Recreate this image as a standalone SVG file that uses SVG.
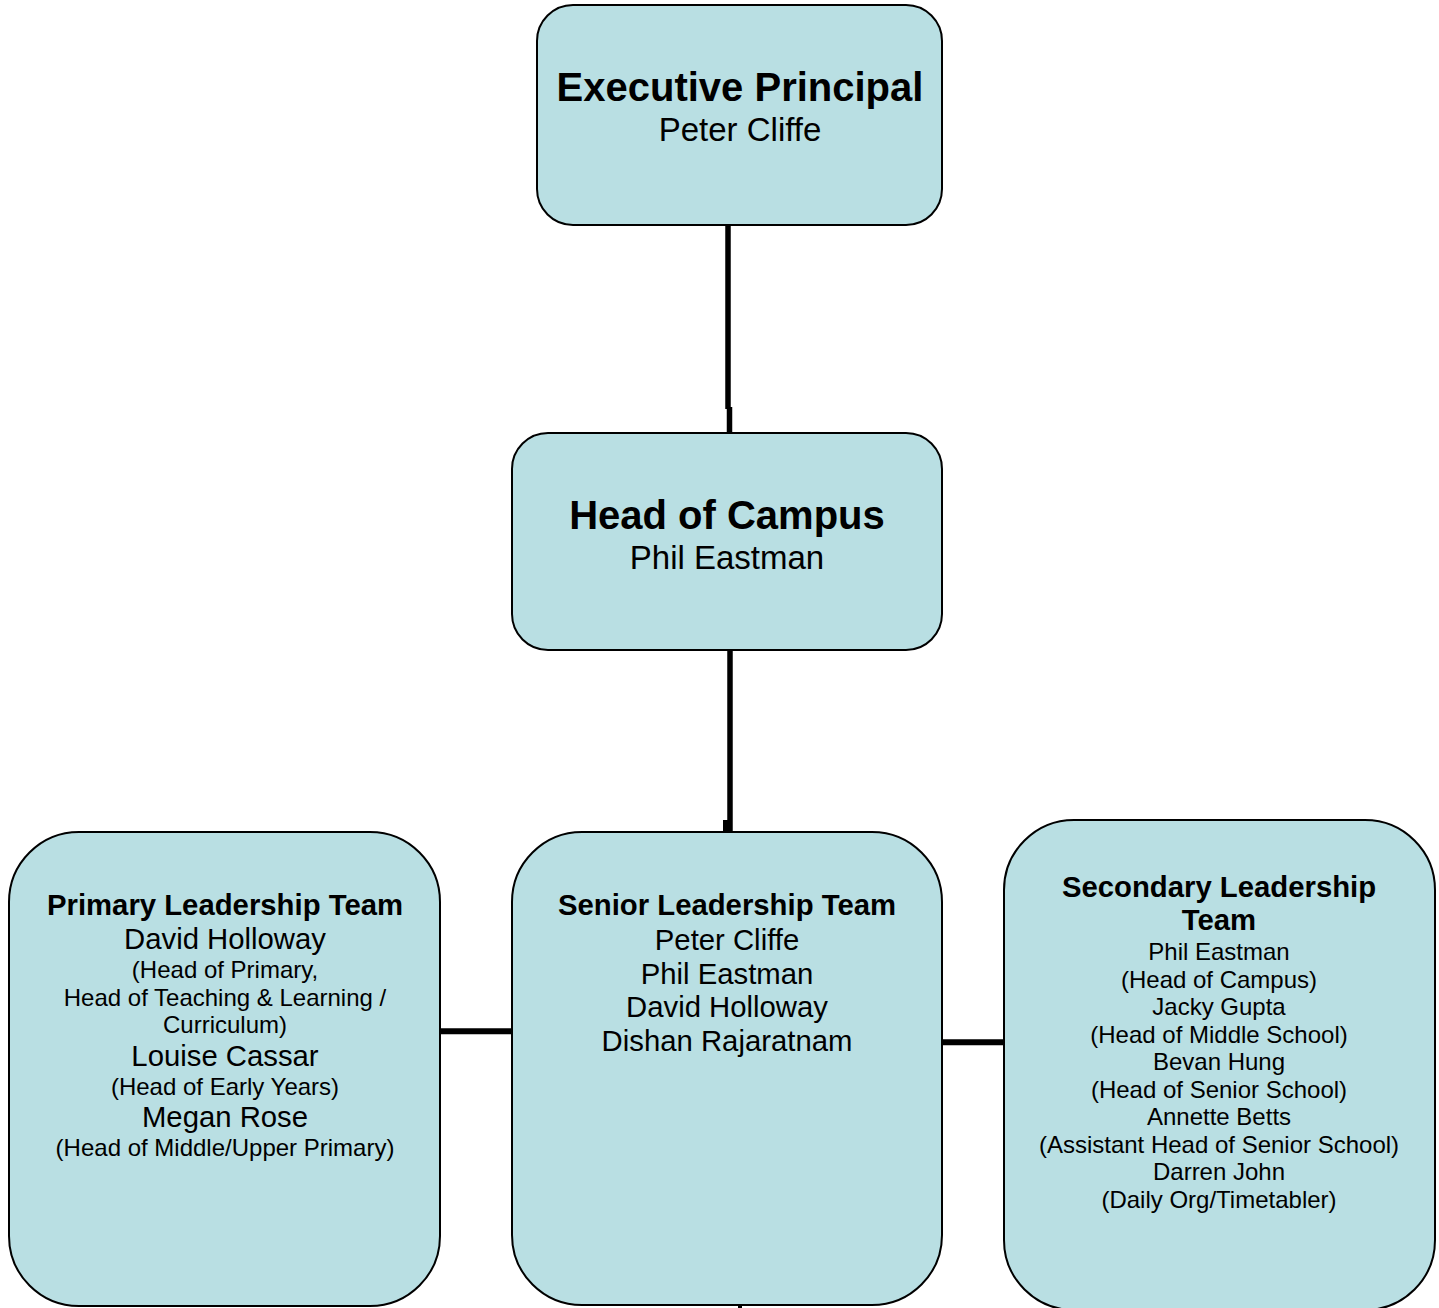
<svg xmlns="http://www.w3.org/2000/svg" width="1439" height="1308" viewBox="0 0 1439 1308">
<style>
.box{fill:#B9DFE3;stroke:#000;stroke-width:2}
.c{fill:none;stroke:#000}
text{font-family:"Liberation Sans",Arial,sans-serif;fill:#000;text-anchor:middle}
.h1{font-size:40px;font-weight:bold}
.n1{font-size:33px}
.h2{font-size:29.3px;font-weight:bold}
.n2{font-size:29.3px}
.s{font-size:24px}
</style>
<rect width="1439" height="1308" fill="#fff"/>
<g id="connectors">
<path class="c" stroke-width="5.5" d="M728 225 V409"/>
<path class="c" stroke-width="5.5" d="M729.5 407 V433"/>
<path class="c" stroke-width="5.5" d="M730 650 V832"/>
<rect x="723" y="820" width="7" height="12" fill="#000"/>
<path class="c" stroke-width="6" d="M440 1031.3 H512"/>
<path class="c" stroke-width="6" d="M942 1042.3 H1004"/>
<path class="c" stroke-width="4" d="M740 1304 V1308"/>
</g>
<g id="exec">
<rect class="box" x="537" y="5" width="405" height="220" rx="36"/>
<text x="740" y="101" class="h1">Executive Principal</text>
<text x="740" y="141" class="n1">Peter Cliffe</text>
</g>
<g id="campus">
<rect class="box" x="512" y="433" width="430" height="217" rx="36"/>
<text x="727" y="529" class="h1">Head of Campus</text>
<text x="727" y="569" class="n1">Phil Eastman</text>
</g>
<g id="primary">
<rect class="box" x="9" y="832" width="431" height="474" rx="70"/>
<text x="225" y="915" class="h2">Primary Leadership Team</text>
<text x="225" y="949" class="n2">David Holloway</text>
<text x="225" y="978" class="s">(Head of Primary,</text>
<text x="225" y="1006" class="s">Head of Teaching &amp; Learning /</text>
<text x="225" y="1033" class="s">Curriculum)</text>
<text x="225" y="1066" class="n2">Louise Cassar</text>
<text x="225" y="1095" class="s">(Head of Early Years)</text>
<text x="225" y="1127" class="n2">Megan Rose</text>
<text x="225" y="1156" class="s">(Head of Middle/Upper Primary)</text>
</g>
<g id="senior">
<rect class="box" x="512" y="832" width="430" height="473" rx="70"/>
<text x="727" y="915" class="h2">Senior Leadership Team</text>
<text x="727" y="950" class="n2">Peter Cliffe</text>
<text x="727" y="984" class="n2">Phil Eastman</text>
<text x="727" y="1017" class="n2">David Holloway</text>
<text x="727" y="1051" class="n2">Dishan Rajaratnam</text>
</g>
<g id="secondary">
<rect class="box" x="1004" y="820" width="431" height="490" rx="70"/>
<text x="1219" y="897" class="h2">Secondary Leadership</text>
<text x="1219" y="930" class="h2">Team</text>
<text x="1219" y="960" class="s">Phil Eastman</text>
<text x="1219" y="988" class="s">(Head of Campus)</text>
<text x="1219" y="1015" class="s">Jacky Gupta</text>
<text x="1219" y="1043" class="s">(Head of Middle School)</text>
<text x="1219" y="1070" class="s">Bevan Hung</text>
<text x="1219" y="1098" class="s">(Head of Senior School)</text>
<text x="1219" y="1125" class="s">Annette Betts</text>
<text x="1219" y="1153" class="s">(Assistant Head of Senior School)</text>
<text x="1219" y="1180" class="s">Darren John</text>
<text x="1219" y="1208" class="s">(Daily Org/Timetabler)</text>
</g>
</svg>
